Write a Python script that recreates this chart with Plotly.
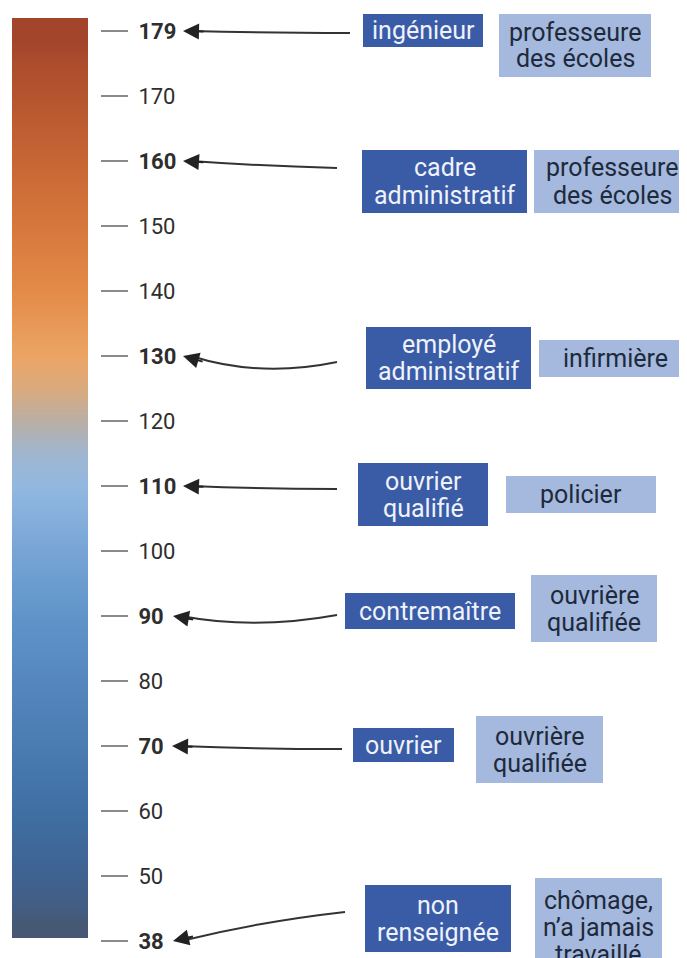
import plotly.graph_objects as go

# ---------------- data ----------------
tick_values = [179, 170, 160, 150, 140, 130, 120, 110, 100, 90, 80, 70, 60, 50, 38]
father_values = [179, 160, 130, 110, 90, 70, 38]
father_jobs = ["ingénieur", "cadre<br>administratif", "employé<br>administratif",
               "ouvrier<br>qualifié", "contremaître", "ouvrier", "non<br>renseignée"]
daughter_jobs = ["professeure<br>des écoles", "professeure<br>des écoles", "infirmière",
                 "policier", "ouvrière<br>qualifiée", "ouvrière<br>qualifiée",
                 "chômage,<br>n’a jamais<br>travaillé"]

# gradient colours anchored at values of the scale
grad_values = [179, 170, 160, 150, 140, 130, 125, 120, 115, 110, 100, 90, 80, 70, 60, 50, 38]
grad_colors = ["#A3452B", "#B5552F", "#C76634", "#D6783D", "#E48B48", "#EBA565", "#D9AA7E",
               "#B9AFA6", "#9FB6D0", "#92B8E0", "#77A4D5", "#6094C9", "#5587BE", "#4A7BB1",
               "#3F6FA3", "#3F6290", "#465874"]

# ---------------- layout constants ----------------
PAGE_W, PAGE_H = 687, 958
OFF = 8                          # browser body margin
W, H = PAGE_W - OFF, PAGE_H - OFF
PX0, STEP = 31.0, 65.0          # page pixel of first tick, pixel spacing between ticks
DARK, LIGHT = "#3A5BA6", "#A5B9DE"
FONT = "Roboto"
BOX_FS, LINE_SP = 25, 27

def py2idx(py):
    return (py - PX0) / STEP

def py2paper(py):
    return 1 - (py - OFF) / H

# box geometry (x0, x1, y-centre, height) in page pixels
dark_boxes = [(363, 483, 30.5, 33), (362, 527, 181.5, 63), (366, 531, 358, 62),
              (358, 488, 494.5, 63), (345, 515, 611, 36), (353, 454, 745, 34),
              (365, 511, 918.5, 67)]
light_boxes = [(499, 651, 45.5, 63), (534, 690, 181.5, 63), (539, 692, 358.5, 37),
               (506, 656, 494.5, 37), (531, 657, 608.5, 67), (476, 603, 749.5, 67),
               (535, 662, 927, 98)]
# arrow geometry: start point and bezier control point (page pixels), tip x
arrow_start = [(350, 33), (337, 168), (337, 362), (337, 489), (337, 615), (342, 749), (345, 912)]
arrow_ctrl = [(265, 33), (260, 166), (260, 378), (260, 489), (255, 630), (257, 749), (260, 921.5)]
arrow_tip_x = [183, 183, 183, 183, 173, 172, 173]

idx_of = {v: i for i, v in enumerate(tick_values)}

fig = go.Figure()

# ---------------- gradient bar ----------------
n = len(tick_values)
edges = [py2idx(18)] + [i + 0.5 for i in range(n - 1)] + [py2idx(938)]
zmin, zmax = min(tick_values), max(tick_values)
colorscale = sorted([[(v - zmin) / (zmax - zmin), c] for v, c in zip(grad_values, grad_colors)])
fig.add_trace(go.Heatmap(
    x=[12, 50, 88], y=edges, z=[[v, v] for v in tick_values],
    zmin=zmin, zmax=zmax, colorscale=colorscale, zsmooth="best",
    showscale=False, hoverinfo="skip"))

# ---------------- axis ticks ----------------
ticktext = [f"<b>{v}</b>" if v in father_values else str(v) for v in tick_values]

shapes, annotations = [], []

def add_box(x0, x1, yc, h, color, text, fcolor):
    shapes.append(dict(type="rect", xref="x", yref="paper", x0=x0, x1=x1,
                       y0=py2paper(yc + h / 2), y1=py2paper(yc - h / 2),
                       fillcolor=color, line=dict(width=0), layer="above"))
    lines = text.split("<br>")
    k = len(lines)
    for j, ln in enumerate(lines):
        y = yc + (j - (k - 1) / 2) * LINE_SP
        annotations.append(dict(x=(x0 + x1) / 2, y=py2paper(y), xref="x", yref="paper",
                                text=ln, showarrow=False, xanchor="center", yanchor="middle",
                                font=dict(family=FONT, size=BOX_FS, color=fcolor)))

for i, v in enumerate(father_values):
    add_box(*dark_boxes[i], DARK, father_jobs[i], "#EEF2FA")
    add_box(*light_boxes[i], LIGHT, daughter_jobs[i], "#1E2A3C")

    # curved arrow
    sx, sy = arrow_start[i]
    cx, cy = arrow_ctrl[i]
    tx = arrow_tip_x[i]
    ti = idx_of[v]
    ty_px = PX0 + STEP * ti
    shapes.append(dict(type="path", xref="x", yref="y",
                       path=f"M {sx},{py2idx(sy)} Q {cx},{py2idx(cy)} {tx + 8},{ti}",
                       line=dict(color="#333333", width=2)))
    dx, dy = cx - tx, cy - ty_px
    L = (dx ** 2 + dy ** 2) ** 0.5
    annotations.append(dict(x=tx, y=ti, xref="x", yref="y", text="", showarrow=True,
                            ax=22 * dx / L, ay=22 * dy / L, arrowhead=2, arrowsize=1.6,
                            arrowwidth=2, arrowcolor="#222222", standoff=0))

fig.update_layout(
    width=W, height=H, margin=dict(l=0, r=0, t=0, b=0),
    paper_bgcolor="white", plot_bgcolor="white", showlegend=False,
    xaxis=dict(range=[OFF, PAGE_W], visible=False, fixedrange=True),
    yaxis=dict(range=[py2idx(PAGE_H), py2idx(OFF)], anchor="free",
               position=(100 - OFF) / W,
               side="right", tickmode="array", tickvals=list(range(n)), ticktext=ticktext,
               ticks="outside", ticklen=27, tickwidth=2, tickcolor="#8A8A8A",
               ticklabelstandoff=6,
               tickfont=dict(family=FONT, size=22, color="#2E2E2E"),
               showgrid=False, zeroline=False, showline=False, fixedrange=True),
    shapes=shapes, annotations=annotations,
)

fig.write_html("out.html")
